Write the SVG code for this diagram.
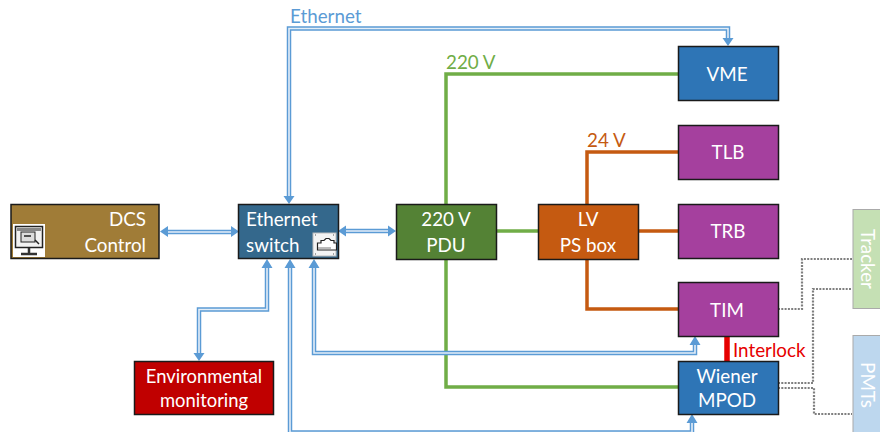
<svg xmlns="http://www.w3.org/2000/svg" width="880" height="432" viewBox="0 0 880 432">
<style>
text{font-family:"Lato","Open Sans","Liberation Sans",sans-serif;font-size:18.800px;fill:#fff;text-anchor:middle}
.box{stroke:#1a1a1a;stroke-width:1.5}
.o{fill:none;stroke:#5b9bd5;stroke-width:4.500}
.i{fill:none;stroke:#e4eef8;stroke-width:1.600}
.g{fill:none;stroke:#70ad47;stroke-width:3.500}
.r{fill:none;stroke:#c55a11;stroke-width:3.500}
.d{fill:none;stroke:#7f7f7f;stroke-width:2.200;stroke-dasharray:2 1.300}
.lab{text-anchor:start}
.ah{fill:#5b9bd5}
</style>
<g id="connectors">
<path class="g" d="M446 204V74H678M446 259V387H678M496 231H538"/>
<path class="r" d="M587 204V152H678M638 231H678M587 259V309H678"/>
<path d="M727 336V361" fill="none" stroke="#e60000" stroke-width="5.500"/>
<path class="d" d="M778 309H802V259H852M778 383H813V289H852M778 388H814V414H852"/>
<path class="o" d="M289 198V28.500H728V39"/><path class="i" d="M289 198V28.500H728V39"/>
<path class="o" d="M167 232H231"/><path class="i" d="M167 232H231"/>
<path class="o" d="M346 231H388"/><path class="i" d="M346 231H388"/>
<path class="o" d="M267 267V309.500H199V353"/><path class="i" d="M267 267V309.500H199V353"/>
<path class="o" d="M314 267V353H695V344"/><path class="i" d="M314 267V353H695V344"/>
<path class="o" d="M290 267V432.500H692V422"/><path class="i" d="M290 267V432.500H692V422"/>
<path class="ah" d="M283.500 196h11l-5.500 8zM722.500 38h11l-5.500 8zM168 226v11l-8-5.500zM231 226v11l8-5.500zM346 225.500v11l-8-5.500zM388 225.500v11l8-5.500zM261.500 268h11l-5.500-9zM284.500 268h11l-5.500-9zM308.500 268h11l-5.500-9zM193.500 353h11l-5.500 8zM689.500 345h11l-5.500-9zM686.500 423h11l-5.500-9z"/>
</g>
<g id="dcs"><rect class="box" x="11" y="204.500" width="148" height="54" fill="#a07c37"/>
<rect x="13" y="224" width="32" height="33" fill="#fff"/><rect x="15.500" y="226.500" width="27" height="21" fill="#f2f2f2" stroke="#222" stroke-width="1.500"/><rect x="17" y="228" width="24" height="3" fill="#888"/><rect x="21" y="232" width="14" height="10" fill="#ddd" stroke="#222"/><path d="M24 236h7M35 240l4 4" stroke="#222" stroke-width="1.500" fill="none"/><path d="M29 248v5M21 254h16" stroke="#333" stroke-width="2.500" fill="none"/>
<text x="146" y="226" style="text-anchor:end">DCS</text><text x="146" y="252" style="text-anchor:end">Control</text></g>
<g id="switch"><rect class="box" x="238.500" y="204.500" width="100" height="54" fill="#34688c"/>
<rect x="313" y="233" width="23" height="23" fill="#f4f4f4" stroke="#bbb"/><path d="M317.500 250v-7h3.500v-2.500h3l2-2h3l2 2h3v2.500h2.500v7z" fill="#fff" stroke="#222" stroke-width="1.200"/><path d="M318 248h13" stroke="#777"/><path d="M315 235h1M333 235h1M315 254h1M333 254h1" stroke="#555"/>
<text x="246" y="226" style="text-anchor:start">Ethernet</text><text x="246" y="252" style="text-anchor:start">switch</text></g>
<g id="pdu"><rect class="box" x="396.500" y="204.500" width="100" height="55" fill="#548235"/><text x="446" y="226">220 V</text><text x="446" y="252">PDU</text></g>
<g id="lv"><rect class="box" x="538.500" y="204.500" width="100" height="55" fill="#c55a11"/><text x="588" y="226">LV</text><text x="588" y="252">PS box</text></g>
<g id="vme"><rect class="box" x="678.500" y="46.500" width="100" height="54" fill="#2e75b6"/><text x="727" y="81">VME</text></g>
<g id="tlb"><rect class="box" x="678.500" y="125.500" width="100" height="54" fill="#a5409e"/><text x="728" y="159">TLB</text></g>
<g id="trb"><rect class="box" x="678.500" y="204.500" width="100" height="54" fill="#a5409e"/><text x="728" y="238">TRB</text></g>
<g id="tim"><rect class="box" x="678.500" y="282.500" width="100" height="54" fill="#a5409e"/><text x="727" y="317">TIM</text></g>
<g id="mpod"><rect class="box" x="678.500" y="361.500" width="100" height="53" fill="#2e75b6"/><text x="727" y="383">Wiener</text><text x="727" y="407">MPOD</text></g>
<g id="env"><rect class="box" x="134.500" y="361.500" width="139" height="53" fill="#c00000"/><text x="204" y="383" style="font-size:18.400px">Environmental</text><text x="204" y="407" style="font-size:18.400px">monitoring</text></g>
<g id="tracker"><rect x="853" y="209.500" width="30" height="99" fill="#c5e0b4" stroke="#aaa"/><text transform="translate(861 259) rotate(90)">Tracker</text></g>
<g id="pmts"><rect x="853" y="335.500" width="30" height="100" fill="#bdd7ee" stroke="#aaa"/><text transform="translate(861 385) rotate(90)">PMTs</text></g>
<g id="labels">
<text class="lab" x="290" y="23" style="fill:#5b9bd5">Ethernet</text>
<text class="lab" x="446" y="69" style="fill:#70ad47">220 V</text>
<text class="lab" x="587" y="147" style="fill:#c55a11">24 V</text>
<text class="lab" x="733" y="357" style="fill:#e60000">Interlock</text>
</g>
</svg>
